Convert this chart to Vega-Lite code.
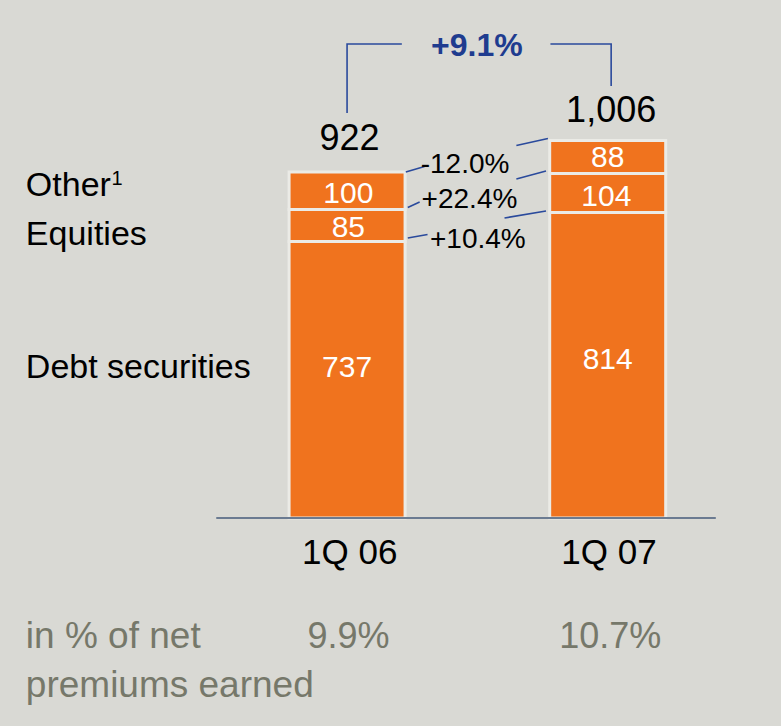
{
  "$schema": "https://vega.github.io/schema/vega-lite/v6.json",
  "width": 781,
  "height": 726,
  "autosize": {"type": "fit", "contains": "padding"},
  "padding": 0,
  "background": "#d9d9d4",
  "config": {"view": {"stroke": null}, "font": "Liberation Sans"},
  "datasets": {
    "bars": [
      {"period": "1Q 06", "pos": 1, "segment": "Debt securities", "order": 1, "value": 737},
      {"period": "1Q 06", "pos": 1, "segment": "Equities", "order": 2, "value": 85},
      {"period": "1Q 06", "pos": 1, "segment": "Other", "order": 3, "value": 100},
      {"period": "1Q 07", "pos": 2, "segment": "Debt securities", "order": 1, "value": 814},
      {"period": "1Q 07", "pos": 2, "segment": "Equities", "order": 2, "value": 104},
      {"period": "1Q 07", "pos": 2, "segment": "Other", "order": 3, "value": 88}
    ],
    "lines": [
      {"id": "c1a", "ord": 1, "x": 1.2254, "y": 921.9},
      {"id": "c1a", "ord": 2, "x": 1.2973, "y": 936.6},
      {"id": "c1b", "ord": 1, "x": 1.6496, "y": 992.5},
      {"id": "c1b", "ord": 2, "x": 1.7708, "y": 1011.2},
      {"id": "c2a", "ord": 1, "x": 1.233, "y": 827.3},
      {"id": "c2a", "ord": 2, "x": 1.2784, "y": 842.0},
      {"id": "c2b", "ord": 1, "x": 1.6496, "y": 903.3},
      {"id": "c2b", "ord": 2, "x": 1.7633, "y": 924.6},
      {"id": "c3a", "ord": 1, "x": 1.233, "y": 746.1},
      {"id": "c3a", "ord": 2, "x": 1.3087, "y": 755.4},
      {"id": "c3b", "ord": 1, "x": 1.6042, "y": 799.4},
      {"id": "c3b", "ord": 2, "x": 1.7633, "y": 818.0},
      {"id": "b1", "ord": 1, "x": 1.0, "y": 1079.1},
      {"id": "b1", "ord": 2, "x": 1.0, "y": 1263.0},
      {"id": "b1", "ord": 3, "x": 1.2102, "y": 1263.0},
      {"id": "b2", "ord": 1, "x": 1.7803, "y": 1263.0},
      {"id": "b2", "ord": 2, "x": 2.0133, "y": 1263.0},
      {"id": "b2", "ord": 3, "x": 2.0133, "y": 1151.1}
    ],
    "base": [{"x": 0.4981, "x2": 2.4148, "y": 0}],
    "texts": [
      {"kind": "total", "t": "922", "x": 1.0095, "y": 980.6},
      {"kind": "total", "t": "1,006", "x": 2.0133, "y": 1055.2},
      {"kind": "seg", "t": "100", "x": 1.005, "y": 839.3},
      {"kind": "seg", "t": "85", "x": 1.005, "y": 748.7},
      {"kind": "seg", "t": "737", "x": 1.0, "y": 375.7},
      {"kind": "seg", "t": "88", "x": 2.0, "y": 935.3},
      {"kind": "seg", "t": "104", "x": 1.995, "y": 831.3},
      {"kind": "seg", "t": "814", "x": 2.0, "y": 397},
      {"kind": "chg", "t": "-12.0%", "x": 1.4527, "y": 919.3},
      {"kind": "chg", "t": "+22.4%", "x": 1.4697, "y": 827.3},
      {"kind": "chg", "t": "+10.4%", "x": 1.5019, "y": 719.4},
      {"kind": "growth", "t": "+9.1%", "x": 1.4981, "y": 1231},
      {"kind": "cat", "t": "1Q 06", "x": 1.01, "y": -122.6},
      {"kind": "cat", "t": "1Q 07", "x": 2.005, "y": -122.6},
      {"kind": "legend", "t": "Other", "x": -0.2325, "y": 858},
      {"kind": "legend", "t": "Equities", "x": -0.2325, "y": 727.4},
      {"kind": "legend", "t": "Debt securities", "x": -0.2325, "y": 373},
      {"kind": "sup", "t": "1", "x": 0.0966, "y": 887.3},
      {"kind": "note", "t": "in % of net", "x": -0.2325, "y": -346.4},
      {"kind": "note", "t": "premiums earned", "x": -0.2325, "y": -477},
      {"kind": "ratio", "t": "9.9%", "x": 1.0057, "y": -346.4},
      {"kind": "ratio", "t": "10.7%", "x": 2.0095, "y": -346.4}
    ]
  },
  "layer": [
    {
      "data": {"name": "bars"},
      "transform": [
        {"stack": "value", "groupby": ["period"], "sort": [{"field": "order", "order": "ascending"}], "as": ["v0", "v1"]}
      ],
      "mark": {"type": "bar", "width": 116, "color": "#f0731e", "stroke": "#ebebe6", "strokeWidth": 3},
      "encoding": {
        "x": {"field": "pos", "type": "quantitative", "scale": {"domain": [-0.3125, 2.6458], "nice": false, "zero": false}, "axis": null},
        "y": {"field": "v0", "type": "quantitative", "scale": {"domain": [-554.3, 1380.3], "nice": false, "zero": false}, "axis": null},
        "y2": {"field": "v1"}
      }
    },
    {
      "data": {"name": "base"},
      "mark": {"type": "rule", "color": "#6b7b91", "strokeWidth": 2},
      "encoding": {
        "x": {"field": "x", "type": "quantitative"},
        "x2": {"field": "x2"},
        "y": {"field": "y", "type": "quantitative"}
      }
    },
    {
      "data": {"name": "lines"},
      "mark": {"type": "line", "color": "#2a4a9c", "strokeWidth": 1.6},
      "encoding": {
        "x": {"field": "x", "type": "quantitative"},
        "y": {"field": "y", "type": "quantitative"},
        "detail": {"field": "id"},
        "order": {"field": "ord"}
      }
    },
    {
      "data": {"name": "texts"},
      "transform": [{"filter": "datum.kind == 'total'"}],
      "mark": {"type": "text", "fontSize": 36, "color": "#000000", "align": "center", "baseline": "alphabetic"},
      "encoding": {"x": {"field": "x", "type": "quantitative"}, "y": {"field": "y", "type": "quantitative"}, "text": {"field": "t"}}
    },
    {
      "data": {"name": "texts"},
      "transform": [{"filter": "datum.kind == 'seg'"}],
      "mark": {"type": "text", "fontSize": 30, "color": "#ffffff", "align": "center", "baseline": "alphabetic"},
      "encoding": {"x": {"field": "x", "type": "quantitative"}, "y": {"field": "y", "type": "quantitative"}, "text": {"field": "t"}}
    },
    {
      "data": {"name": "texts"},
      "transform": [{"filter": "datum.kind == 'chg'"}],
      "mark": {"type": "text", "fontSize": 28, "color": "#000000", "align": "center", "baseline": "alphabetic"},
      "encoding": {"x": {"field": "x", "type": "quantitative"}, "y": {"field": "y", "type": "quantitative"}, "text": {"field": "t"}}
    },
    {
      "data": {"name": "texts"},
      "transform": [{"filter": "datum.kind == 'growth'"}],
      "mark": {"type": "text", "fontSize": 32, "fontWeight": "bold", "color": "#1f3c8f", "align": "center", "baseline": "alphabetic"},
      "encoding": {"x": {"field": "x", "type": "quantitative"}, "y": {"field": "y", "type": "quantitative"}, "text": {"field": "t"}}
    },
    {
      "data": {"name": "texts"},
      "transform": [{"filter": "datum.kind == 'cat'"}],
      "mark": {"type": "text", "fontSize": 35, "color": "#000000", "align": "center", "baseline": "alphabetic"},
      "encoding": {"x": {"field": "x", "type": "quantitative"}, "y": {"field": "y", "type": "quantitative"}, "text": {"field": "t"}}
    },
    {
      "data": {"name": "texts"},
      "transform": [{"filter": "datum.kind == 'legend'"}],
      "mark": {"type": "text", "fontSize": 34, "color": "#000000", "align": "left", "baseline": "alphabetic"},
      "encoding": {"x": {"field": "x", "type": "quantitative"}, "y": {"field": "y", "type": "quantitative"}, "text": {"field": "t"}}
    },
    {
      "data": {"name": "texts"},
      "transform": [{"filter": "datum.kind == 'sup'"}],
      "mark": {"type": "text", "fontSize": 20, "color": "#000000", "align": "left", "baseline": "alphabetic"},
      "encoding": {"x": {"field": "x", "type": "quantitative"}, "y": {"field": "y", "type": "quantitative"}, "text": {"field": "t"}}
    },
    {
      "data": {"name": "texts"},
      "transform": [{"filter": "datum.kind == 'note'"}],
      "mark": {"type": "text", "fontSize": 37, "color": "#76786a", "align": "left", "baseline": "alphabetic"},
      "encoding": {"x": {"field": "x", "type": "quantitative"}, "y": {"field": "y", "type": "quantitative"}, "text": {"field": "t"}}
    },
    {
      "data": {"name": "texts"},
      "transform": [{"filter": "datum.kind == 'ratio'"}],
      "mark": {"type": "text", "fontSize": 36, "color": "#76786a", "align": "center", "baseline": "alphabetic"},
      "encoding": {"x": {"field": "x", "type": "quantitative"}, "y": {"field": "y", "type": "quantitative"}, "text": {"field": "t"}}
    }
  ]
}
